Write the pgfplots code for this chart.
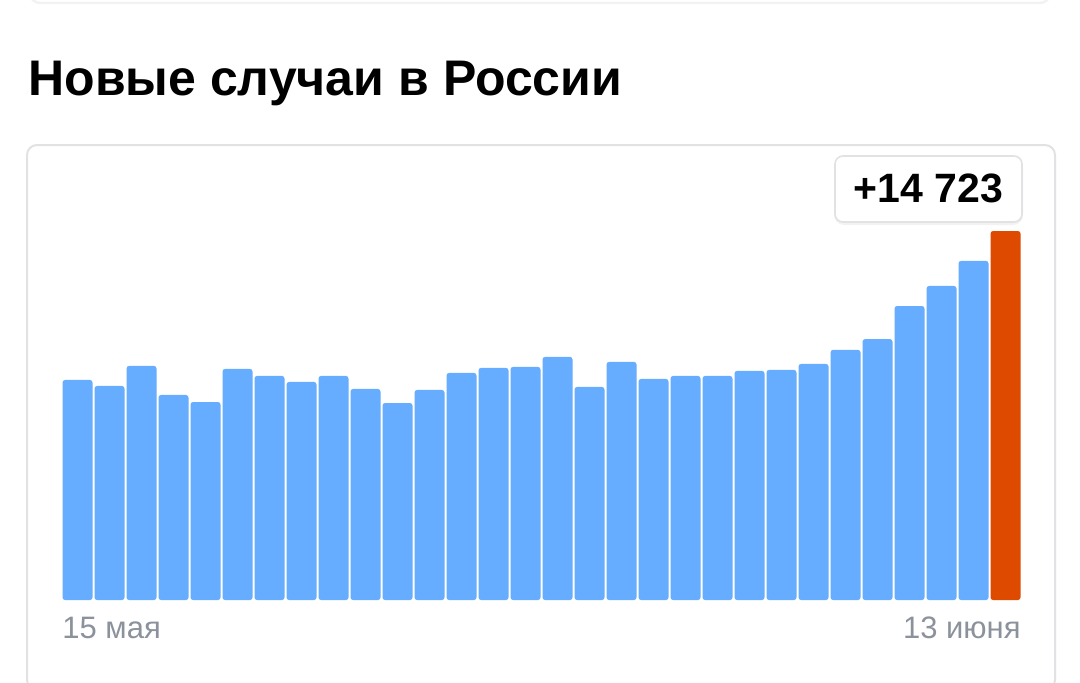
\documentclass[border=0pt]{standalone}
\usepackage{fontspec}
\setmainfont{Liberation Sans}
\usepackage{pgfplots}
\pgfplotsset{compat=1.18}

\definecolor{barblue}{RGB}{102,172,255}
\definecolor{barlast}{RGB}{222,74,0}
\definecolor{labelgray}{RGB}{140,146,156}
\definecolor{cardgray}{RGB}{226,226,228}

\begin{document}
\begin{tikzpicture}
% 1 px of the reference = 0.5pt
\path[use as bounding box] (0,0) rectangle (540pt,341pt);

% bottom edge of the card above (faint shadow)
\draw[draw=cardgray!45, line width=1.2pt, rounded corners=5pt] (15pt,360pt) rectangle (525pt,339.5pt);

% title
\node[anchor=base west, inner sep=0pt, font=\fontsize{25}{30}\selectfont\bfseries] at (14pt,293.5pt) {Новые случаи в России};

% card
\draw[draw=cardgray, line width=1pt, rounded corners=5pt, fill=white] (13.5pt,-4pt) rectangle (527.5pt,268.5pt);

\begin{axis}[
    at={(30.75pt,41pt)}, anchor=south west,
    scale only axis,
    width=480pt, height=200pt,
    xmin=-0.5, xmax=29.5,
    ymin=0, ymax=15960,
    hide axis,
    ybar, bar width=15pt,
]
% новые случаи по дням, 15 мая -- 12 июня
\addplot[fill=barblue, draw=none, bar shift=0pt, rounded corners=1.3pt] coordinates {
    (0,8780) (1,8540) (2,9340) (3,8180) (4,7900) (5,9220) (6,8940) (7,8700)
    (8,8940) (9,8420) (10,7860) (11,8380) (12,9060) (13,9260) (14,9300)
    (15,9700) (16,8500) (17,9500) (18,8820) (19,8940) (20,8940) (21,9140)
    (22,9180) (23,9420) (24,9980) (25,10410) (26,11730) (27,12530) (28,13530)
};
% 13 июня
\addplot[fill=barlast, draw=none, bar shift=0pt, rounded corners=1.3pt] coordinates {(29,14723)};
\end{axis}

% date labels
\node[anchor=base west, inner sep=0pt, text=labelgray, font=\fontsize{15.5}{18}\selectfont] at (31pt,22pt) {15 мая};
\node[anchor=base east, inner sep=0pt, text=labelgray, font=\fontsize{15.5}{18}\selectfont] at (510.5pt,22pt) {13 июня};

% tooltip
\fill[black, opacity=0.05, rounded corners=5pt] (417pt,228.5pt) rectangle (511.5pt,262pt);
\draw[fill=white, draw=cardgray, line width=0.8pt, rounded corners=4pt] (417.5pt,230pt) rectangle (511pt,263pt);
\node[anchor=base, inner sep=0pt, font=\fontsize{20.5}{24}\selectfont\bfseries] at (464.25pt,240pt) {+14 723};
\end{tikzpicture}
\end{document}
